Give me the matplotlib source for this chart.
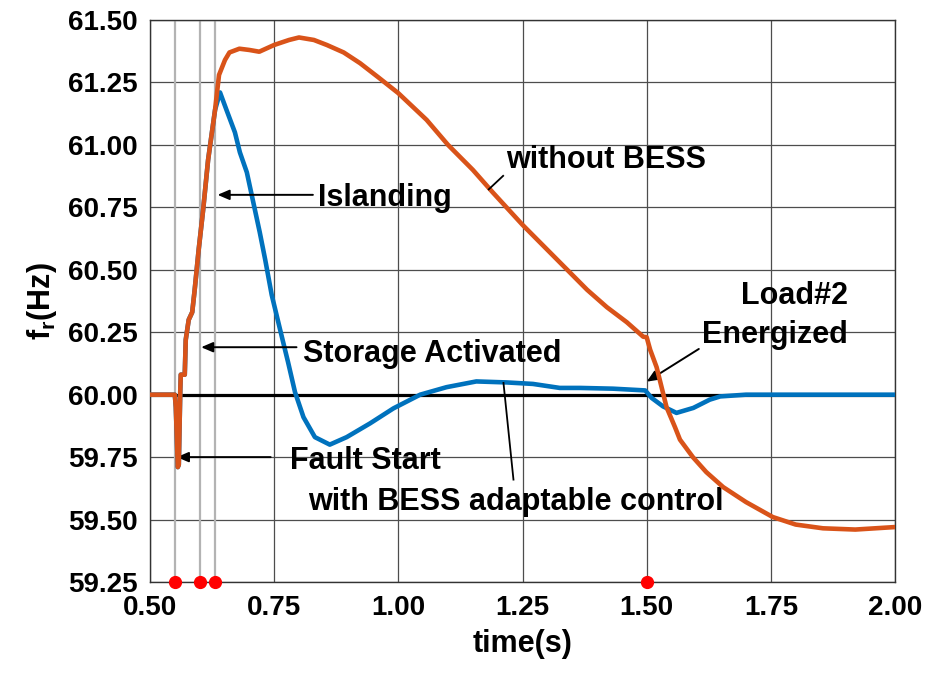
import numpy as np
import matplotlib
matplotlib.use('Agg')
import matplotlib.pyplot as plt

plt.rcParams['font.family'] = ['Liberation Sans', 'DejaVu Sans']
plt.rcParams['font.weight'] = 'bold'
plt.rcParams['mathtext.fontset'] = 'custom'
plt.rcParams['mathtext.rm'] = 'Liberation Sans:bold'
plt.rcParams['mathtext.default'] = 'rm'

# frecuencia sin BESS (naranja)
t_sin = [0.50, 0.55, 0.552, 0.556, 0.558, 0.561, 0.562, 0.57, 0.572, 0.578,
         0.585, 0.59, 0.598, 0.607, 0.617, 0.631, 0.639, 0.651, 0.66, 0.68,
         0.70, 0.72, 0.75, 0.78, 0.80, 0.83, 0.856, 0.89, 0.923, 0.96,
         1.0, 1.057, 1.10, 1.15, 1.19, 1.25, 1.30, 1.34, 1.38, 1.42,
         1.46, 1.493, 1.50, 1.507, 1.52, 1.53, 1.54, 1.557, 1.567, 1.593,
         1.62, 1.654, 1.70, 1.754, 1.80, 1.855, 1.92, 1.96, 2.0]
f_sin = [60.0, 60.0, 59.95, 59.71, 59.72, 60.02, 60.08, 60.08, 60.22, 60.30,
         60.33, 60.42, 60.58, 60.74, 60.94, 61.14, 61.28, 61.34, 61.37, 61.385,
         61.38, 61.373, 61.40, 61.42, 61.43, 61.42, 61.40, 61.37, 61.327, 61.27,
         61.207, 61.10, 61.0, 60.90, 60.81, 60.68, 60.58, 60.50, 60.42, 60.35,
         60.29, 60.232, 60.23, 60.18, 60.11, 60.03, 59.95, 59.87, 59.82, 59.75,
         59.69, 59.63, 59.57, 59.51, 59.48, 59.465, 59.46, 59.465, 59.47]

# frecuencia con control adaptable del BESS (azul)
t_con = [0.50, 0.55, 0.552, 0.556, 0.558, 0.561, 0.562, 0.57, 0.572, 0.578,
         0.585, 0.59, 0.598, 0.607, 0.617, 0.631, 0.641, 0.654, 0.671, 0.681,
         0.695, 0.708, 0.721, 0.732, 0.745, 0.762, 0.778, 0.792, 0.809, 0.832,
         0.862, 0.896, 0.943, 0.99, 1.044, 1.097, 1.157, 1.218, 1.271, 1.325,
         1.366, 1.432, 1.497, 1.51, 1.533, 1.56, 1.594, 1.627, 1.648, 1.70,
         1.754, 1.85, 2.0]
f_con = [60.0, 60.0, 59.95, 59.71, 59.72, 60.02, 60.08, 60.08, 60.22, 60.30,
         60.33, 60.42, 60.58, 60.74, 60.94, 61.14, 61.21, 61.14, 61.05, 60.97,
         60.89, 60.77, 60.65, 60.54, 60.40, 60.26, 60.13, 60.01, 59.91, 59.83,
         59.80, 59.83, 59.885, 59.945, 60.0, 60.03, 60.053, 60.049, 60.043, 60.027,
         60.027, 60.024, 60.017, 59.987, 59.953, 59.927, 59.947, 59.98, 59.993, 60.0,
         60.0, 60.0, 60.0]

# instantes de los eventos: falla, almacenamiento, isla, carga 2
t_eventos = [0.55, 0.60, 0.63, 1.50]

fig = plt.figure(figsize=(9.27, 6.73), dpi=100)
ax = fig.add_axes([0.1618, 0.1352, 0.8037, 0.8351])

ax.set_xlim(0.5, 2.0)
ax.set_ylim(59.25, 61.5)
ax.set_xticks(np.arange(0.5, 2.01, 0.25))
ax.set_yticks(np.arange(59.25, 61.51, 0.25))
ax.set_xticklabels(['%.2f' % v for v in ax.get_xticks()])
ax.set_yticklabels(['%.2f' % v for v in ax.get_yticks()])
ax.tick_params(length=0, labelsize=20, pad=9)
ax.grid(True, color='#4d4d4d', lw=0.9, zorder=0)
ax.set_axisbelow(True)
for s in ax.spines.values():
    s.set_color('#333333')
    s.set_linewidth(1.0)

# lineas verticales de los eventos
ax.vlines(t_eventos[:3], 59.25, 61.5, color='#b3b3b3', lw=1.6, zorder=1)

ax.axhline(60.0, color='black', lw=2.3, zorder=2)
ax.plot(t_con, f_con, color='#0072BD', lw=3.3, zorder=3, solid_joinstyle='round')
ax.plot(t_sin, f_sin, color='#D95319', lw=3.3, zorder=4, solid_joinstyle='round')
ax.plot(t_eventos, [59.25] * len(t_eventos), 'o', color='red', ms=8.5,
        clip_on=False, zorder=6)

ax.set_xlabel('time(s)', fontsize=22, fontweight='bold', labelpad=6)
ax.set_ylabel(r'f$_\mathrm{r}$(Hz)', fontsize=22, fontweight='bold', labelpad=6)

flecha = dict(arrowstyle='-|>,head_length=0.7,head_width=0.3', color='black',
              lw=1.4, shrinkA=0, shrinkB=0)
ax.annotate('', xy=(0.636, 60.80), xytext=(0.828, 60.80), arrowprops=flecha)
ax.annotate('', xy=(0.603, 60.19), xytext=(0.795, 60.19), arrowprops=flecha)
ax.annotate('', xy=(0.554, 59.75), xytext=(0.743, 59.75), arrowprops=flecha)
ax.annotate('', xy=(1.50, 60.052), xytext=(1.605, 60.183), arrowprops=flecha)
ax.plot([1.211, 1.182], [60.876, 60.822], color='black', lw=1.3, zorder=5)
ax.plot([1.2318, 1.2117], [59.66, 60.047], color='black', lw=1.3, zorder=5)

fs = 22
ax.text(0.838, 60.755, 'Islanding', fontsize=fs, fontweight='bold', va='baseline')
ax.text(0.808, 60.131, 'Storage Activated', fontsize=fs, fontweight='bold', va='baseline')
ax.text(0.781, 59.703, 'Fault Start', fontsize=fs, fontweight='bold', va='baseline')
ax.text(1.2165, 60.908, 'without BESS', fontsize=fs, fontweight='bold', va='baseline')
ax.text(1.905, 60.363, 'Load#2', fontsize=fs, fontweight='bold', va='baseline', ha='right')
ax.text(1.905, 60.207, 'Energized', fontsize=fs, fontweight='bold', va='baseline', ha='right')
ax.text(0.818, 59.538, 'with BESS adaptable control', fontsize=fs, fontweight='bold',
        va='baseline')

fig.savefig('out.png', dpi=100)
